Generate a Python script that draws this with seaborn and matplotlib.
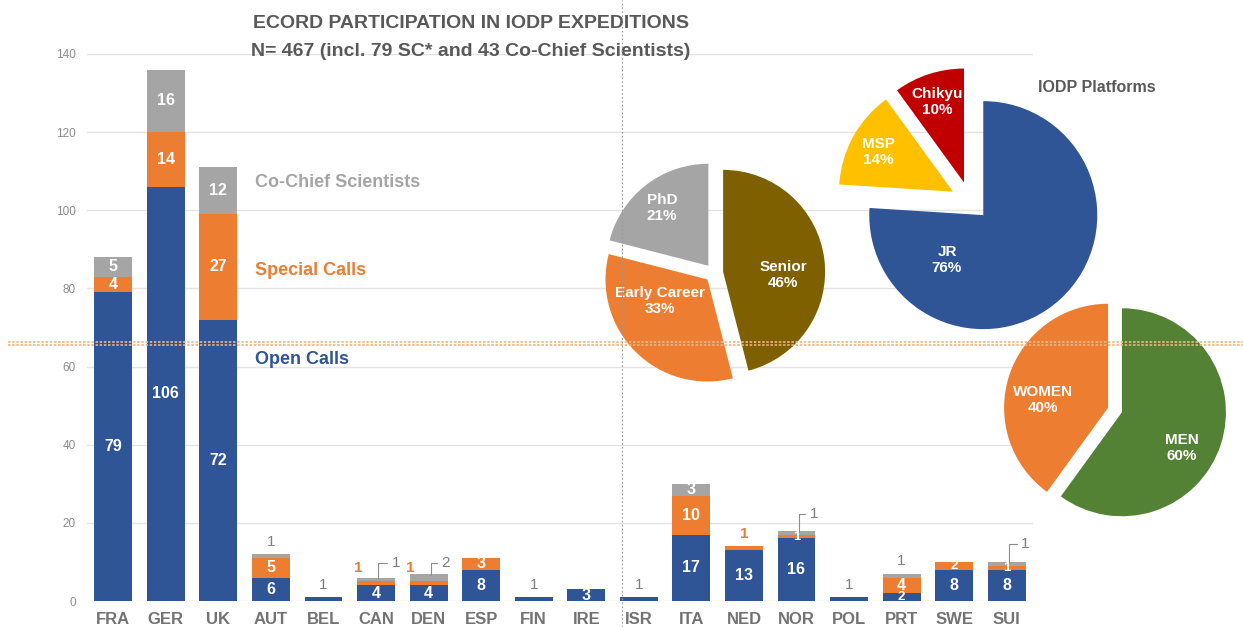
import numpy as np
import pandas as pd
import seaborn as sns
import matplotlib
matplotlib.use("Agg")
import matplotlib.pyplot as plt
from matplotlib.lines import Line2D
from matplotlib import font_manager as fm

# ---- data ----
countries = ["FRA", "GER", "UK", "AUT", "BEL", "CAN", "DEN", "ESP", "FIN",
             "IRE", "ISR", "ITA", "NED", "NOR", "POL", "PRT", "SWE", "SUI"]
open_calls = [79, 106, 72, 6, 1, 4, 4, 8, 1, 3, 1, 17, 13, 16, 1, 2, 8, 8]
special_calls = [4, 14, 27, 5, 0, 1, 1, 3, 0, 0, 0, 10, 1, 1, 0, 4, 2, 1]
co_chiefs = [5, 16, 12, 1, 0, 1, 2, 0, 0, 0, 0, 3, 0, 1, 0, 1, 0, 1]

career_labels = ["Senior", "Early Career", "PhD"]
career_pct = [46, 33, 21]
platform_labels = ["JR", "MSP", "Chikyu"]
platform_pct = [76, 14, 10]
gender_labels = ["MEN", "WOMEN"]
gender_pct = [60, 40]

BLUE = "#2f5597"
ORANGE = "#ed7d31"
GREY = "#a5a5a5"
TXT = "#595959"

W, H = 1243, 627

sns.set_theme(style="white")
names = {f.name for f in fm.fontManager.ttflist}
narrow = "Liberation Sans Narrow" if "Liberation Sans Narrow" in names else None
plt.rcParams["font.family"] = ["Liberation Sans", "DejaVu Sans"]

df = pd.DataFrame({"country": countries, "open": open_calls,
                   "special": special_calls, "chief": co_chiefs})
df["lvl2"] = df["open"] + df["special"]
df["total"] = df["lvl2"] + df["chief"]

fig = plt.figure(figsize=(W / 100, H / 100), dpi=100)
ax = fig.add_axes([87 / W, 1 - 601 / H, (1033 - 87) / W, (601 - 54) / H])

# stacked bars: draw cumulative heights back to front
for col, c in [("total", GREY), ("lvl2", ORANGE), ("open", BLUE)]:
    sns.barplot(data=df, x="country", y=col, order=countries, color=c,
                saturation=1, width=0.72, errorbar=None, ax=ax, zorder=2,
                linewidth=0, edgecolor="none")

ax.set_xlim(-0.5, 17.5)
ax.set_ylim(0, 140)
ax.set_yticks(range(0, 141, 20))
ax.set_xlabel("")
ax.set_ylabel("")
ax.set_axisbelow(True)
ax.yaxis.grid(True, color="#e4e4e4", lw=1)
sns.despine(ax=ax, left=True, bottom=True)
ax.tick_params(axis="y", length=0, pad=8, labelsize=8.5, labelcolor="#8c8c8c")
ax.tick_params(axis="x", length=0, pad=8, labelsize=12, labelcolor="#737373")
for lab in ax.get_xticklabels():
    lab.set_fontweight("bold")

# value labels
above = {("BEL", "open"), ("FIN", "open"), ("ISR", "open"), ("POL", "open"),
         ("AUT", "chief"), ("PRT", "chief"), ("NED", "special")}
left = {("CAN", "special"), ("DEN", "special")}
leader = {"CAN": (13, 11), "DEN": (11, 8.5), "NOR": (11, 13), "SUI": (12, 14)}

for i, row in df.iterrows():
    c = row["country"]
    segs = [("open", 0, row["open"]), ("special", row["open"], row["special"]),
            ("chief", row["lvl2"], row["chief"])]
    for name, bot, val in segs:
        if val == 0:
            continue
        top = bot + val
        if (c, name) in above:
            col = ORANGE if name == "special" else "#7f7f7f"
            ax.annotate(str(val), (i, top), xytext=(0, 4), textcoords="offset points",
                        ha="center", va="bottom", fontsize=11, color=col,
                        fontweight="bold" if name == "special" else "normal")
        elif (c, name) in left:
            ax.annotate(str(val), (i, top), xytext=(-13, 10), textcoords="offset points",
                        ha="center", va="center", fontsize=11, color=ORANGE,
                        fontweight="bold")
        elif name == "chief" and c in leader:
            dx, dy = leader[c]
            ax.annotate(str(val), (i + 0.04, top - 0.3), xytext=(dx, dy),
                        textcoords="offset points", ha="center", va="center",
                        fontsize=11, color="#7f7f7f",
                        arrowprops=dict(arrowstyle="-", color="#8c8c8c", lw=0.8,
                                        shrinkA=1, shrinkB=0,
                                        connectionstyle="angle,angleA=0,angleB=90,rad=0"))
        else:
            fs = 11.5 if val > 2 else 9.5
            ax.text(i, bot + val / 2, str(val), ha="center", va="center",
                    fontsize=fs, color="white", fontweight="bold", zorder=3)

# series names
ax.text(2.7, 107.2, "Co-Chief Scientists", color=GREY, fontsize=13,
        fontweight="bold", va="center")
ax.text(2.7, 84.7, "Special Calls", color=ORANGE, fontsize=13,
        fontweight="bold", va="center")
ax.text(2.7, 61.7, "Open Calls", color=BLUE, fontsize=13,
        fontweight="bold", va="center")

# title
tfam = [narrow, "DejaVu Sans"] if narrow else ["Liberation Sans", "DejaVu Sans"]
tsize = 16.4 if narrow else 14
fig.text(471 / W, 1 - 23 / H, "ECORD PARTICIPATION IN IODP EXPEDITIONS",
         ha="center", va="center", fontsize=tsize, fontweight="bold", color=TXT,
         family=tfam)
fig.text(471 / W, 1 - 52 / H, "N= 467 (incl. 79 SC* and 43 Co-Chief Scientists)",
         ha="center", va="center", fontsize=tsize, fontweight="bold", color=TXT,
         family=tfam)


def draw_pie(vals, labels, colors, cx, cy, r, expl, label_px):
    half = 1.35 * r
    a = fig.add_axes([(cx - half) / W, 1 - (cy + half) / H, 2 * half / W, 2 * half / H])
    a.pie(vals, colors=colors, startangle=90, counterclock=False,
          explode=[expl] * len(vals), wedgeprops=dict(linewidth=0))
    a.set_xlim(-half / r, half / r)
    a.set_ylim(-half / r, half / r)
    a.axis("off")
    a.patch.set_alpha(0)
    for lab, v, (tx, ty) in zip(labels, vals, label_px):
        a.text((tx - cx) / r, (cy - ty) / r, f"{lab}\n{v}%", ha="center",
               va="center", color="white", fontsize=11, fontweight="bold",
               linespacing=1.15)
    return a


draw_pie(career_pct, career_labels, ["#7f6000", ORANGE, GREY],
         714, 273, 102, 0.09, [(783, 275), (660, 301), (662, 208)])
draw_pie(platform_pct, platform_labels, [BLUE, "#ffc000", "#c00000"],
         970, 201, 114, 0.17, [(947, 260), (878, 152), (937, 102)])
draw_pie(gender_pct, gender_labels, ["#548235", ORANGE],
         1115, 410, 104, 0.07, [(1182, 448), (1043, 400)])

fig.text(1097 / W, 1 - 88 / H, "IODP Platforms", ha="center", va="center",
         fontsize=11.5, fontweight="bold", color=TXT)

# dotted guide lines across the slide
fig.add_artist(Line2D([8 / W, 1], [1 - 341.5 / H] * 2, transform=fig.transFigure,
                      color="#e8b98f", ls=(0, (1.5, 1)), lw=1.2, zorder=10))
fig.add_artist(Line2D([8 / W, 1], [1 - 344.5 / H] * 2, transform=fig.transFigure,
                      color="#f3b07a", ls=(0, (1.5, 1)), lw=1.2, zorder=10))
fig.add_artist(Line2D([622 / W] * 2, [0, 1], transform=fig.transFigure,
                      color="#9a9a9a", ls=(0, (1.5, 2)), lw=0.8, zorder=10))

fig.savefig("out.png", dpi=100)
